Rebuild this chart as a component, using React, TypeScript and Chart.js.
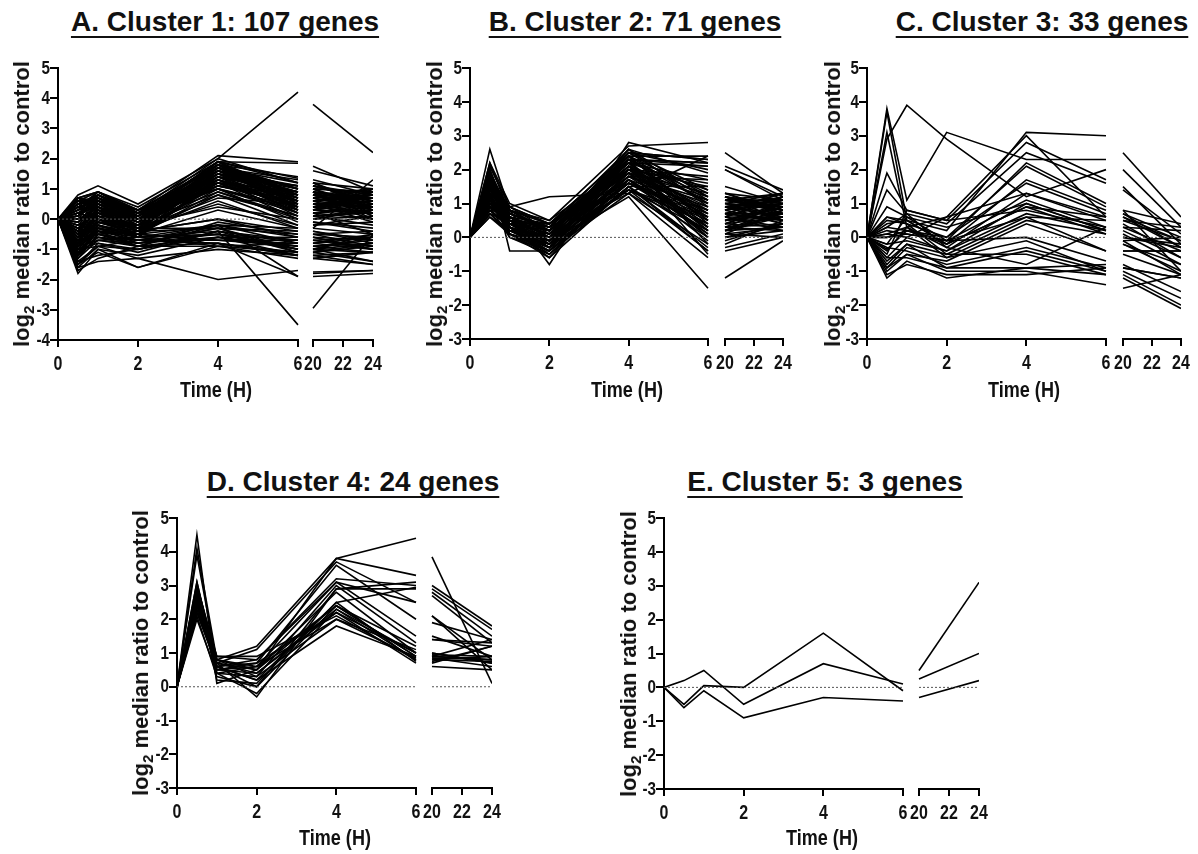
import React, { useEffect, useRef } from "react";
import { Chart, registerables } from "chart.js";

Chart.register(...registerables);

// Sampling times (hours) and axis ticks
const EARLY_TIMES = [0, 0.5, 1, 2, 4, 6];
const LATE_TIMES = [20, 24];
const EARLY_TICKS = [0, 2, 4, 6];
const LATE_TICKS = [20, 22, 24];
const X_TITLE = "Time (H)";

// Each row = one gene: log2 ratio at 0, 0.5, 1, 2, 4, 6, 20, 24 h
const cluster1: number[][] = [
  [0, 0.8, 1.1, 0.5, 2.0, 4.2, 3.8, 2.2],
  [0, 0.7, 0.9, 0.3, 2.1, 1.9, 1.75, 0.9],
  [0, 0.6, 0.9, 0.4, 1.9, 1.85, 1.6, 1.1],
  [0, 0.5, 0.8, 0.2, 1.8, 1.4, 1.3, 0.8],
  [0, 0.3, 0.7, 0.1, 1.9, 1.35, 1.2, 1.0],
  [0, 0.7, 0.6, 0.0, 1.7, 1.2, 1.1, 0.6],
  [0, -0.2, 0.5, -0.1, 1.8, 1.0, 1.0, 0.9],
  [0, 0.1, 0.8, 0.2, 1.6, 0.9, 0.9, 0.7],
  [0, -0.5, 0.4, -0.2, 1.7, 0.8, 0.8, 0.5],
  [0, 0.4, 0.3, -0.3, 1.5, 1.1, 1.2, 0.4],
  [0, -0.8, 0.2, -0.4, 1.6, 0.7, 0.6, 0.8],
  [0, 0.2, 0.6, 0.1, 1.4, 0.6, 0.7, 0.3],
  [0, -0.3, 0.0, -0.5, 1.5, 0.9, 0.5, 0.6],
  [0, 0.6, 0.7, 0.3, 1.3, 0.5, 0.4, 0.2],
  [0, -1.0, -0.2, -0.6, 1.4, 0.8, 0.9, 0.1],
  [0, 0.0, 0.4, -0.2, 1.2, 0.4, 0.3, 0.5],
  [0, -0.6, 0.1, -0.3, 1.3, 0.3, 0.6, 0.0],
  [0, 0.5, 0.8, 0.0, 1.1, 0.6, 0.2, 0.4],
  [0, -0.9, -0.1, -0.4, 1.0, 0.2, 0.0, 0.3],
  [0, 0.3, 0.5, 0.2, 1.2, 0.0, 0.1, -0.2],
  [0, -0.4, 0.3, -0.1, 0.9, 0.1, 0.5, 0.7],
  [0, 0.1, 0.6, 0.3, 1.0, -0.1, 0.8, 0.2],
  [0, -1.2, -0.3, -0.5, 0.8, -0.2, -0.1, -0.3],
  [0, 0.7, 0.9, 0.2, 1.5, 1.0, 1.0, 0.9],
  [0, -0.7, 0.2, -0.2, 1.8, 0.5, 0.4, 0.6],
  [0, 0.4, 0.6, -0.1, 1.7, 0.9, 0.7, 0.8],
  [0, -0.1, 0.3, 0.1, 1.6, 1.1, 0.9, 0.5],
  [0, 0.2, 0.7, 0.0, 1.9, 0.7, 1.1, 0.7],
  [0, -1.1, -0.4, -0.6, 1.3, 0.6, 0.2, 0.0],
  [0, 0.6, 0.4, -0.3, 1.4, 0.4, 0.6, 0.9],
  [0, -0.3, 0.5, 0.2, 1.1, 0.8, 0.5, 0.4],
  [0, 0.0, 0.8, 0.1, 1.0, 0.3, 0.8, 1.0],
  [0, -0.6, -0.1, -0.3, 0.7, 0.5, 0.3, 0.2],
  [0, 0.5, 0.2, -0.4, 1.2, 0.2, -0.2, -0.1],
  [0, -0.8, 0.4, 0.0, 1.5, 0.6, 1.2, 0.5],
  [0, 0.3, 0.9, 0.3, 1.7, 1.3, 0.4, 0.8],
  [0, -0.2, 0.1, -0.5, 0.9, 0.0, 0.7, 0.3],
  [0, 0.1, 0.5, -0.2, 1.8, 0.8, 0.6, 0.9],
  [0, -0.5, 0.6, 0.2, 1.6, 0.4, 0.9, 0.1],
  [0, 0.4, 0.0, -0.6, 1.3, 0.7, 0.3, 0.6],
  [0, -1.3, -0.5, -0.4, 0.6, -0.3, 0.2, -0.5],
  [0, 0.2, 0.4, 0.1, 1.9, 1.2, 1.0, 0.4],
  [0, -0.4, 0.7, 0.0, 1.4, 0.9, 0.1, 0.2],
  [0, 0.6, 0.3, -0.1, 1.1, 0.5, 0.6, 0.7],
  [0, -0.9, 0.0, -0.3, 1.7, 0.3, 0.8, 0.3],
  [0, 0.0, 0.2, -0.2, 0.8, 0.1, 0.4, 0.6],
  [0, 0.5, 0.6, 0.2, 1.6, 0.6, 1.1, 0.8],
  [0, -0.7, -0.2, -0.5, 1.2, 0.9, 0.0, 0.1],
  [0, 0.3, 0.8, 0.3, 1.8, 1.0, 0.7, 1.0],
  [0, -0.1, 0.4, -0.1, 1.5, 0.2, 0.5, -0.1],
  [0, 0.7, 0.5, 0.0, 1.0, 0.4, 0.2, 0.5],
  [0, -0.5, 0.1, -0.4, 1.9, 0.8, 0.9, 0.6],
  [0, 0.1, 0.7, 0.2, 1.3, 0.1, 0.6, 0.4],
  [0, -1.0, -0.3, -0.2, 1.6, 0.7, 0.3, 0.9],
  [0, 0.4, 0.9, 0.1, 1.7, 0.6, 1.0, 0.2],
  [0, -0.2, 0.2, -0.3, 0.5, -0.2, 0.1, 0.3],
  [0, 0.2, 0.5, 0.0, 1.4, 1.1, 0.8, 0.7],
  [0, -0.6, 0.3, -0.6, 1.8, 0.3, 0.4, 0.5],
  [0, 0.6, 0.6, 0.3, 1.2, 0.9, 0.9, 0.0],
  [0, -0.3, -0.1, -0.2, 0.4, 0.0, -0.2, 0.1],
  [0, 0.5, 0.7, 0.1, 1.9, 0.5, 0.6, 1.0],
  [0, -0.8, 0.1, 0.0, 1.5, 0.8, 0.2, 0.3],
  [0, 0.3, 0.4, -0.4, 1.1, 0.6, 0.7, 0.8],
  [0, -1.2, -0.4, -0.5, 0.3, -0.3, -0.1, -0.4],
  [0, 0.1, 0.8, 0.2, 2.0, 1.2, 1.1, 0.6],
  [0, -0.4, 0.5, -0.1, 1.3, 0.4, 0.5, 0.2],
  [0, 0.7, 0.2, -0.3, 1.6, 0.9, 0.3, 0.9],
  [0, -0.1, 0.6, 0.1, 1.8, 0.6, 0.8, 0.4],
  [0, 0.2, 0.0, -0.2, 1.4, 0.2, 0.9, 0.6],
  [0, -0.9, 0.3, -0.4, 1.7, 1.0, 0.4, 0.7],
  [0, 0.4, 0.6, 0.0, 1.2, 0.7, 1.2, 0.3],
  [0, -0.6, 0.2, 0.1, 1.9, 0.4, 0.6, 0.8],
  [0, -1.8, -1.0, -1.6, -0.9, -1.3, -1.3, -1.5],
  [0, -1.6, -1.4, -1.3, -2.0, -1.7, -1.75, -1.7],
  [0, -1.5, -1.1, -1.6, -0.8, -1.9, -1.9, -1.8],
  [0, -1.4, -0.9, -1.0, -0.4, -3.5, -2.95, -0.5],
  [0, -1.3, -0.5, -0.9, -0.6, -1.2, -1.8, -1.7],
  [0, -1.2, -0.3, -0.8, -0.3, -1.1, -1.2, -1.5],
  [0, -1.0, -0.6, -0.7, -0.5, -1.0, -1.0, -1.4],
  [0, -0.9, -0.2, -0.6, -0.2, -1.9, -0.3, 1.3],
  [0, -0.8, -0.4, -0.5, -0.7, -0.9, -0.9, -1.1],
  [0, -1.1, -0.7, -0.9, -0.2, -0.8, -0.6, -0.7],
  [0, -0.7, -0.1, -0.4, 0.0, -0.6, -0.8, -1.0],
  [0, -0.6, -0.5, -0.7, -0.8, -1.2, -1.1, -0.8],
  [0, -1.5, -0.8, -1.1, -0.4, -0.7, -0.5, -0.9],
  [0, -0.5, 0.0, -0.3, -0.3, -0.5, -0.7, -0.6],
  [0, -1.2, -0.6, -0.8, -0.6, -1.0, -1.0, -0.5],
  [0, -0.4, -0.3, -0.6, -0.5, -0.9, -0.4, -0.8],
  [0, -1.0, -0.9, -0.7, -0.7, -0.8, -1.3, -1.1],
  [0, -0.3, -0.2, -0.5, -0.2, -0.6, -0.9, -0.7],
  [0, -0.9, -0.4, -0.9, -0.9, -1.1, -0.7, -1.0],
  [0, -0.6, 0.1, -0.4, 0.0, -0.4, -0.5, -0.6],
  [0, -1.3, -0.7, -0.6, -0.5, -0.7, -1.1, -0.9],
  [0, -0.8, -0.5, -0.8, -0.3, -1.0, -0.8, -0.5],
  [0, -1.4, -1.2, -1.0, -0.6, -0.6, -0.6, -1.0],
  [0, -0.2, 0.0, -0.6, -0.4, -0.8, -0.4, -0.7],
  [0, -1.1, -0.3, -0.7, -0.8, -1.2, -1.2, -1.1],
  [0, -0.7, -0.6, -0.9, -0.1, -0.5, -0.9, -0.8],
  [0, -1.6, -1.0, -1.2, -0.6, -0.9, -1.0, -0.6],
  [0, -0.5, -0.1, -0.5, -0.7, -0.7, -0.7, -0.9],
  [0, -1.0, -0.8, -1.0, -0.4, -1.1, -0.5, -0.4],
  [0, -0.4, -0.4, -0.7, -0.2, -0.3, -1.0, -1.1],
  [0, -1.2, -0.2, -0.6, -0.9, -0.8, -0.8, -0.6],
  [0, -0.9, -0.7, -0.8, -0.5, -1.0, -0.3, -0.5],
  [0, -1.7, -1.3, -0.9, -0.8, -1.1, -1.0, -0.8],
  [0, -0.3, -0.5, -0.4, -0.3, -0.4, -0.6, -1.0],
  [0, -1.5, -0.9, -1.3, -1.0, -1.2, -1.1, -1.4],
];

const cluster2: number[][] = [
  [0, 2.6, 0.8, -0.8, 2.8, 2.2, 2.5, 1.3],
  [0, 2.2, 1.0, 0.5, 2.7, 2.8, 2.1, 1.4],
  [0, 2.1, 0.9, 1.2, 1.3, 2.4, 2.0, 1.2],
  [0, 2.0, -0.4, -0.4, 2.5, 2.3, 1.5, 1.0],
  [0, 1.9, 0.7, 0.3, 2.3, 2.1, 1.3, 1.1],
  [0, 1.8, 0.6, -0.2, 1.2, -1.5, -1.2, -0.1],
  [0, 1.7, 0.5, 0.1, 2.2, 1.7, 1.2, 0.9],
  [0, 1.6, 0.8, 0.4, 2.0, 1.5, 1.1, 1.3],
  [0, 1.5, 0.3, -0.3, 1.9, 1.2, 1.0, 0.8],
  [0, 1.4, 0.4, 0.2, 2.4, 1.0, 0.9, 0.6],
  [0, 1.3, 0.2, -0.1, 1.8, 0.8, 0.8, 1.0],
  [0, 1.2, 0.6, 0.0, 2.1, 0.6, 0.7, 0.5],
  [0, 1.1, 0.1, -0.5, 1.7, 0.4, 0.6, 1.2],
  [0, 1.0, 0.5, 0.3, 1.6, 0.2, 0.5, 0.7],
  [0, 0.9, 0.0, -0.4, 1.5, 0.0, 0.4, 0.9],
  [0, 0.8, 0.7, 0.2, 2.3, -0.2, 0.3, 0.4],
  [0, 0.7, 0.4, -0.2, 1.4, -0.4, 0.2, 0.6],
  [0, 0.6, 0.2, 0.1, 1.3, -0.6, 0.1, 0.3],
  [0, 2.1, 0.9, 0.4, 2.5, 2.3, 1.3, 0.7],
  [0, 1.9, 0.8, 0.2, 2.2, 2.1, 1.2, 1.0],
  [0, 1.8, 0.3, -0.6, 2.0, 1.6, 0.0, 0.2],
  [0, 1.6, 0.6, 0.0, 2.4, 1.3, -0.2, 0.5],
  [0, 1.5, 0.5, -0.3, 1.8, 1.1, -0.4, 0.0],
  [0, 1.4, 0.7, 0.3, 2.6, 0.9, 1.1, 0.8],
  [0, 1.3, 0.1, -0.4, 1.6, 0.7, 0.9, 1.1],
  [0, 1.2, 0.4, 0.1, 2.1, 0.5, 0.8, 0.4],
  [0, 1.1, 0.8, 0.5, 2.2, 0.3, 0.7, 1.2],
  [0, 1.0, 0.2, -0.2, 1.9, 0.1, 0.6, 0.6],
  [0, 0.9, 0.6, 0.0, 1.7, -0.1, 0.5, 0.9],
  [0, 0.8, 0.3, -0.5, 1.5, -0.3, 0.4, 0.3],
  [0, 2.0, 0.5, 0.2, 2.3, 2.2, 1.0, 1.3],
  [0, 1.7, 0.9, 0.4, 2.0, 1.8, 0.2, 0.7],
  [0, 1.5, 0.4, -0.1, 2.5, 1.4, 0.9, 1.0],
  [0, 1.3, 0.6, 0.2, 1.8, 1.0, 1.2, 0.5],
  [0, 1.1, 0.2, -0.3, 2.1, 0.8, 0.1, 0.8],
  [0, 0.9, 0.7, 0.3, 1.4, 0.6, 0.8, 1.1],
  [0, 0.7, 0.1, -0.2, 2.4, 0.4, 0.3, 0.2],
  [0, 1.9, 0.8, 0.1, 2.6, 1.2, 1.1, 0.9],
  [0, 1.6, 0.3, -0.4, 1.7, 0.9, 0.6, 1.2],
  [0, 1.4, 0.5, 0.4, 2.2, 0.7, 0.5, 0.6],
  [0, 1.2, 0.2, 0.0, 1.6, 0.5, -0.1, 0.4],
  [0, 1.0, 0.6, -0.1, 2.0, 0.2, 0.7, 0.7],
  [0, 0.8, 0.4, 0.2, 1.9, 0.0, 0.3, 1.0],
  [0, 2.2, 0.7, 0.3, 2.4, 2.4, 2.0, 1.1],
  [0, 1.8, 0.5, -0.2, 2.3, 2.2, 1.3, 0.8],
  [0, 1.5, 0.1, -0.6, 1.5, 1.5, 0.6, 0.3],
  [0, 1.3, 0.8, 0.2, 2.1, 1.1, 0.8, 1.3],
  [0, 1.1, 0.3, -0.3, 1.8, 0.3, 1.0, 0.5],
  [0, 0.9, 0.5, 0.1, 2.2, -0.5, 0.2, 0.9],
  [0, 0.7, 0.2, -0.4, 1.3, -0.2, 0.4, 0.6],
  [0, 2.0, 0.6, 0.0, 2.6, 1.9, 0.9, 0.4],
  [0, 1.7, 0.4, 0.4, 1.9, 1.3, 0.7, 1.2],
  [0, 1.4, 0.9, 0.2, 2.0, 0.6, 1.2, 0.8],
  [0, 1.2, 0.0, -0.5, 1.7, 0.1, -0.3, 0.1],
  [0, 1.0, 0.7, 0.3, 2.3, 1.0, 0.5, 1.0],
  [0, 0.8, 0.3, -0.1, 1.4, 0.4, 0.9, 0.7],
  [0, 1.6, 0.5, 0.1, 2.5, 2.0, 1.1, 1.1],
  [0, 1.3, 0.2, -0.2, 1.6, 0.8, 0.6, 0.2],
  [0, 1.1, 0.8, 0.4, 2.1, 0.2, 0.3, 0.6],
  [0, 0.9, 0.4, 0.0, 1.8, 1.7, 1.0, 0.9],
  [0, 1.5, 0.6, 0.2, 2.4, 0.5, 0.8, 1.3],
  [0, 1.2, 0.1, -0.4, 1.5, -0.4, 0.0, 0.4],
  [0, 1.8, 0.7, 0.3, 2.2, 1.4, 1.2, 0.7],
  [0, 1.0, 0.3, -0.1, 2.0, 0.9, 0.4, 1.0],
  [0, 0.7, 0.5, 0.1, 1.7, 0.3, 0.7, 0.5],
  [0, 1.7, 0.4, -0.3, 2.3, 1.2, 0.9, 1.2],
  [0, 1.4, 0.8, 0.2, 1.9, 0.7, 1.1, 0.8],
  [0, 1.1, 0.2, -0.2, 2.1, 0.0, 0.2, 0.3],
  [0, 0.9, 0.6, 0.4, 2.5, 1.1, 0.6, 1.1],
  [0, 1.3, 0.3, 0.0, 1.6, 0.6, 0.5, 0.9],
  [0, 0.6, 0.1, -0.3, 1.4, 0.2, 0.1, 0.0],
];

const cluster3: number[][] = [
  [0, 3.8, 1.1, 3.1, 2.3, 2.3, 2.5, 0.6],
  [0, 2.9, 3.9, 2.9, 1.2, 2.0, 2.0, 0.3],
  [0, 3.7, 0.5, 0.2, 3.1, 3.0, 1.5, -0.2],
  [0, 3.1, 0.3, 0.6, 3.0, 0.6, 1.4, 0.1],
  [0, 1.9, 0.8, 0.5, 2.8, 1.7, 0.8, 0.4],
  [0, 1.4, 0.7, 0.4, 2.5, 1.6, 0.6, -0.1],
  [0, 0.9, 0.6, -0.1, 2.2, 1.0, 0.5, 0.3],
  [0, 0.6, 0.4, 0.0, 2.1, 0.9, 0.7, -0.3],
  [0, 0.4, 0.5, -0.2, 1.7, 0.8, 0.3, -0.4],
  [0, 0.3, 0.2, 0.0, 1.6, 0.7, 0.0, -0.2],
  [0, 0.1, 0.3, -0.3, 1.3, 0.5, -0.1, 0.0],
  [0, 0.0, 0.1, -0.1, 1.1, 0.3, 0.4, -0.6],
  [0, -0.2, 0.6, 0.3, 1.0, 0.2, 0.6, -0.3],
  [0, -0.35, 0.2, -0.2, 0.9, 0.1, 0.1, -0.8],
  [0, -0.5, 0.8, 0.5, 0.8, 0.3, -0.2, -1.0],
  [0, -0.6, 0.0, -0.4, 0.7, 0.2, -0.4, -0.4],
  [0, -0.8, -0.2, -0.5, 0.6, 0.5, 0.5, -0.1],
  [0, -0.9, -0.3, -0.6, 0.5, 0.1, -0.5, -1.1],
  [0, -1.0, -0.5, -0.7, 0.4, -0.4, -0.8, -1.6],
  [0, -1.2, -0.7, -1.2, -0.9, -0.8, -0.9, -1.2],
  [0, 0.2, 0.1, -0.1, 0.0, -0.7, -1.0, -1.8],
  [0, -0.3, -0.4, -0.8, -0.3, -0.9, -1.1, -2.0],
  [0, -0.6, -0.6, -0.9, -0.4, -1.0, -1.2, -2.1],
  [0, 0.5, 0.4, -0.5, -0.5, -1.1, -1.5, -1.1],
  [0, -0.9, -0.5, -1.0, -1.0, -1.4, -0.4, -0.4],
  [0, -1.1, -0.8, -1.1, -1.1, -0.9, 0.8, -1.0],
  [0, 0.3, 0.7, -0.3, -0.8, 0.3, 0.2, -0.6],
  [0, -0.4, 0.3, -0.6, -0.1, -1.0, -0.1, -1.1],
  [0, 0.6, 0.5, -0.2, 0.9, 0.6, 0.3, 0.2],
  [0, -0.2, -0.1, -0.4, 1.0, 0.2, 0.7, 0.0],
  [0, 0.1, 0.0, 0.6, 1.3, 0.6, 0.0, -0.3],
  [0, -0.7, -0.2, -0.9, -0.9, -1.1, -0.9, -1.2],
  [0, 0.0, 0.2, -0.1, 0.6, -0.4, -0.2, -0.8],
];

const cluster4: number[][] = [
  [0, 4.5, 0.1, 0.5, 3.8, 4.4, 3.85, 0.1],
  [0, 4.1, 0.8, 1.2, 3.8, 3.3, 3.0, 1.8],
  [0, 3.9, 0.7, 1.1, 3.7, 2.5, 2.9, 1.7],
  [0, 3.1, 0.6, 0.7, 3.6, 2.0, 2.8, 1.5],
  [0, 3.0, 0.9, 0.8, 3.2, 3.0, 2.7, 1.3],
  [0, 2.9, 0.5, 0.6, 3.1, 1.5, 2.1, 0.8],
  [0, 2.8, 0.4, 0.3, 3.0, 1.3, 1.9, 1.4],
  [0, 2.6, 0.7, -0.3, 2.9, 3.1, 1.5, 0.9],
  [0, 2.4, 0.8, 0.5, 2.8, 1.0, 1.4, 1.2],
  [0, 2.2, 0.6, 0.2, 2.5, 2.95, 1.0, 0.7],
  [0, 2.1, 0.3, 0.0, 2.4, 0.9, 0.9, 0.8],
  [0, 2.7, 0.7, 0.4, 2.3, 0.8, 0.85, 0.6],
  [0, 2.5, 0.5, 0.7, 2.2, 0.7, 0.8, 0.9],
  [0, 3.0, 0.8, 0.6, 2.0, 1.1, 0.7, 1.2],
  [0, 2.3, 0.6, 0.2, 1.8, 0.9, 1.0, 0.7],
  [0, 2.8, 0.4, -0.2, 2.3, 1.0, 0.6, 0.5],
  [0, 2.6, 0.9, 0.9, 2.1, 0.8, 0.9, 1.4],
  [0, 2.2, 0.7, 0.5, 2.4, 1.2, 0.85, 0.8],
  [0, 2.9, 0.2, 0.1, 2.5, 0.75, 1.4, 1.3],
  [0, 2.4, 0.6, 0.8, 3.1, 2.5, 0.95, 0.9],
  [0, 3.1, 0.5, 0.4, 2.2, 1.0, 0.8, 0.75],
  [0, 2.5, 0.8, 0.3, 2.0, 0.85, 2.1, 0.5],
  [0, 2.0, 0.4, 0.6, 2.4, 0.9, 0.9, 0.8],
  [0, 2.7, 0.6, 0.0, 2.9, 2.9, 0.75, 1.2],
];

const cluster5: number[][] = [
  [0, 0.2, 0.5, -0.5, 0.7, 0.1, 0.25, 1.0],
  [0, -0.5, 0.05, 0.0, 1.6, -0.1, 0.5, 3.1],
  [0, -0.6, -0.1, -0.9, -0.3, -0.4, -0.3, 0.2],
];

type PanelLayout = {
  title: string;
  genes: number[][];
  yMin: number;
  left: number;
  top: number;
  bottom: number;
  x6: number;
  x20: number;
  x24: number;
  titleCx: number;
  titleBase: number;
  yLabelCx: number;
  timeCy: number;
};

const PANELS: PanelLayout[] = [
  { title: "A. Cluster 1: 107 genes", genes: cluster1, yMin: -4, left: 58, top: 68, bottom: 340, x6: 298, x20: 313, x24: 373, titleCx: 225, titleBase: 32, yLabelCx: 22, timeCy: 390 },
  { title: "B. Cluster 2: 71 genes", genes: cluster2, yMin: -3, left: 470, top: 68, bottom: 339, x6: 708, x20: 725, x24: 783, titleCx: 635, titleBase: 32, yLabelCx: 435, timeCy: 390 },
  { title: "C. Cluster 3: 33 genes", genes: cluster3, yMin: -3, left: 867, top: 68, bottom: 339, x6: 1106, x20: 1123, x24: 1181, titleCx: 1042, titleBase: 32, yLabelCx: 833, timeCy: 390 },
  { title: "D. Cluster 4: 24 genes", genes: cluster4, yMin: -3, left: 177, top: 518, bottom: 788, x6: 416, x20: 432, x24: 492, titleCx: 353, titleBase: 492, yLabelCx: 141, timeCy: 838 },
  { title: "E. Cluster 5: 3 genes", genes: cluster5, yMin: -3, left: 664, top: 518, bottom: 789, x6: 903, x20: 919, x24: 979, titleCx: 825, titleBase: 492, yLabelCx: 629, timeCy: 838 },
];

const SANS = "'Liberation Sans', Arial, Helvetica, sans-serif";

const YW = 40; // y-axis box width
const PT = 12; // top padding
const PR = 16; // right padding
const XH = 60; // x-axis box height

// Draws the broken x-axis baseline (0-6 and 20-24 segments)
const brokenAxisPlugin = {
  id: "brokenAxis",
  afterDraw(chart: any) {
    const { ctx, chartArea } = chart;
    const s0 = chart.scales.x;
    const s1 = chart.scales.x2;
    const y = Math.round(chartArea.bottom);
    ctx.save();
    ctx.strokeStyle = "#000";
    ctx.lineWidth = 2;
    ctx.beginPath();
    ctx.moveTo(Math.round(s0.getPixelForValue(EARLY_TICKS[0])) - 1, y);
    ctx.lineTo(Math.round(s0.getPixelForValue(EARLY_TICKS[EARLY_TICKS.length - 1])) + 1, y);
    ctx.moveTo(Math.round(s1.getPixelForValue(LATE_TICKS[0])) - 1, y);
    ctx.lineTo(Math.round(s1.getPixelForValue(LATE_TICKS[LATE_TICKS.length - 1])) + 1, y);
    ctx.stroke();
    ctx.restore();
  },
};

// Draws the scales' tick labels in a condensed bold face (like the original figure)
const condensedTickPlugin = {
  id: "condensedTicks",
  afterDraw(chart: any) {
    const { ctx, chartArea } = chart;
    ctx.save();
    ctx.fillStyle = "#111";
    ctx.textBaseline = "alphabetic";
    ctx.font = `bold 20px ${SANS}`;
    ctx.textAlign = "center";
    for (const id of ["x", "x2"]) {
      const s = chart.scales[id];
      s.ticks.forEach((t: any) => {
        const px = s.getPixelForValue(t.value);
        ctx.save();
        ctx.translate(px, chartArea.bottom + 29.5);
        ctx.scale(0.8, 1);
        ctx.fillText(String(t.label ?? t.value), 0, 0);
        ctx.restore();
      });
    }
    const ys = chart.scales.y;
    ctx.font = `bold 19px ${SANS}`;
    ctx.textAlign = "right";
    ctx.textBaseline = "middle";
    ys.ticks.forEach((t: any) => {
      const py = ys.getPixelForValue(t.value);
      ctx.save();
      ctx.translate(chartArea.left - 8, py + 0.5);
      ctx.scale(0.8, 1);
      ctx.fillText(String(t.label ?? t.value), 0, 0);
      ctx.restore();
    });
    ctx.restore();
  },
};

function ClusterPanel({ p }: { p: PanelLayout }) {
  const ref = useRef<HTMLCanvasElement>(null);
  const areaW = p.x24 - p.left;
  const W = areaW + YW + PR;
  const H = p.bottom - p.top + PT + XH;

  useEffect(() => {
    const canvas = ref.current;
    if (!canvas) return;
    const px0 = (p.x6 - p.left) / 6;
    const px1 = (p.x24 - p.x20) / 4;
    const split = (p.x6 + p.x20) / 2 - p.left;
    const x0max = split / px0;
    const x1min = 20 - (p.x20 - p.left - split) / px1;

    const lineStyle = {
      borderColor: "#000",
      borderWidth: 1.6,
      borderJoinStyle: "miter",
      pointRadius: 0,
      fill: false,
      tension: 0,
    };
    const datasets: any[] = [
      {
        data: [{ x: 0, y: 0 }, { x: 6, y: 0 }],
        xAxisID: "x",
        yAxisID: "y",
        borderColor: "#555",
        borderWidth: 1,
        borderDash: [2, 2],
        pointRadius: 0,
      },
      {
        data: [{ x: 20, y: 0 }, { x: 24, y: 0 }],
        xAxisID: "x2",
        yAxisID: "y",
        borderColor: "#555",
        borderWidth: 1,
        borderDash: [2, 2],
        pointRadius: 0,
      },
    ];
    p.genes.forEach((g) => {
      datasets.push({
        ...lineStyle,
        data: EARLY_TIMES.map((t, i) => ({ x: t, y: g[i] })),
        xAxisID: "x",
        yAxisID: "y",
      });
      datasets.push({
        ...lineStyle,
        data: LATE_TIMES.map((t, i) => ({ x: t, y: g[EARLY_TIMES.length + i] })),
        xAxisID: "x2",
        yAxisID: "y",
      });
    });

    const xGrid = {
      display: true,
      drawOnChartArea: false,
      drawTicks: true,
      tickLength: 7,
      lineWidth: 2,
      color: "#000",
    };
    const xTicks = { display: false, autoSkip: false, maxRotation: 0 };

    const chart = new Chart(canvas, {
      type: "line",
      data: { datasets },
      plugins: [brokenAxisPlugin, condensedTickPlugin],
      options: {
        responsive: false,
        animation: false,
        devicePixelRatio: 1,
        events: [],
        layout: { padding: { left: 0, top: PT, right: PR, bottom: 0 } },
        plugins: {
          legend: { display: false },
          tooltip: { enabled: false },
          title: { display: false },
        },
        scales: {
          x: {
            type: "linear",
            position: "bottom",
            stack: "time",
            stackWeight: split,
            bounds: "data",
            min: 0,
            max: x0max,
            grid: xGrid,
            border: { display: false },
            ticks: xTicks,
            afterBuildTicks: (s: any) => {
              s.ticks = EARLY_TICKS.map((v) => ({ value: v }));
            },
            afterFit: (s: any) => {
              s.height = XH;
            },
          },
          x2: {
            type: "linear",
            position: "bottom",
            stack: "time",
            stackWeight: areaW - split,
            bounds: "data",
            min: x1min,
            max: 24,
            grid: xGrid,
            border: { display: false },
            ticks: xTicks,
            afterBuildTicks: (s: any) => {
              s.ticks = LATE_TICKS.map((v) => ({ value: v }));
            },
            afterFit: (s: any) => {
              s.height = XH;
            },
          },
          y: {
            type: "linear",
            position: "left",
            min: p.yMin,
            max: 5,
            grid: {
              display: true,
              drawOnChartArea: false,
              drawTicks: true,
              tickLength: 8,
              lineWidth: 2,
              color: "#000",
            },
            border: { display: true, width: 2, color: "#000" },
            ticks: { display: false, stepSize: 1 },
            afterFit: (s: any) => {
              s.width = YW;
            },
          },
        },
      } as any,
    });
    return () => chart.destroy();
  }, [p]);

  return (
    <>
      <canvas
        ref={ref}
        width={W}
        height={H}
        style={{
          position: "absolute",
          left: p.left - YW,
          top: p.top - PT,
          width: W,
          height: H,
        }}
      />
      <div
        style={{
          position: "absolute",
          left: p.titleCx - 250,
          width: 500,
          top: p.titleBase - 25.3,
          textAlign: "center",
          fontFamily: SANS,
          fontWeight: "bold",
          fontSize: 28,
          lineHeight: "30px",
          whiteSpace: "nowrap",
          color: "#111",
          textDecoration: "underline",
          textDecorationThickness: "2px",
          textUnderlineOffset: "5px",
          textDecorationSkipInk: "none",
        } as any}
      >
        {p.title}
      </div>
      <div
        style={{
          position: "absolute",
          left: p.yLabelCx,
          top: (p.top + p.bottom) / 2,
          transform: "translate(-50%, -50%) rotate(-90deg)",
          whiteSpace: "nowrap",
          fontFamily: SANS,
          fontWeight: "bold",
          fontSize: 22,
          lineHeight: "22px",
          color: "#111",
        }}
      >
        log<sub style={{ fontSize: 15, lineHeight: 0 }}>2</sub> median ratio to control
      </div>
      <div
        style={{
          position: "absolute",
          left: (p.left + p.x24) / 2,
          top: p.timeCy,
          transform: "translate(-50%, -50%) scaleX(0.82)",
          whiteSpace: "nowrap",
          fontFamily: SANS,
          fontWeight: "bold",
          fontSize: 22,
          lineHeight: "22px",
          color: "#111",
        }}
      >
        {X_TITLE}
      </div>
    </>
  );
}

export default function App() {
  return (
    <div
      style={{
        position: "absolute",
        left: 0,
        top: 0,
        width: 1198,
        height: 854,
        background: "#fff",
        overflow: "hidden",
      }}
    >
      {PANELS.map((p) => (
        <ClusterPanel key={p.title} p={p} />
      ))}
    </div>
  );
}
